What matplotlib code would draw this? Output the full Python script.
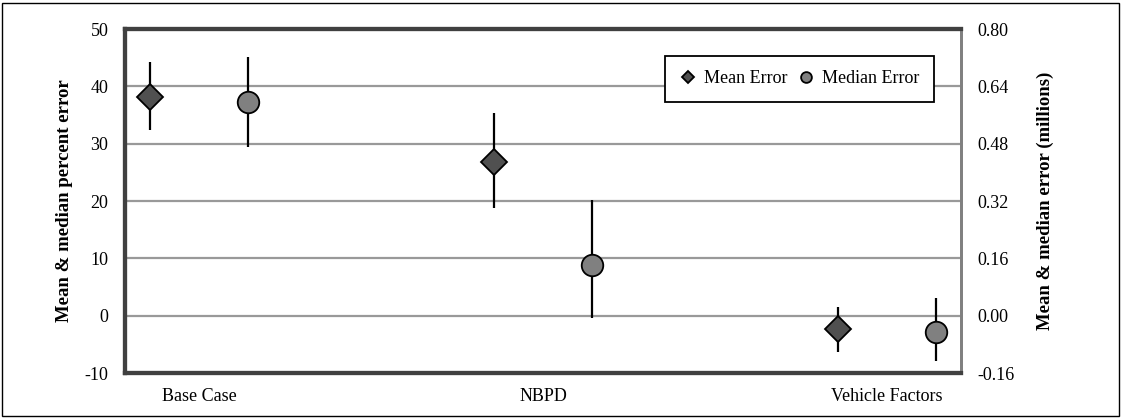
import numpy as np
import matplotlib.pyplot as plt
from matplotlib.patches import Rectangle

plt.rcParams['font.family'] = ['Liberation Serif', 'DejaVu Serif']
plt.rcParams['axes.unicode_minus'] = False

categories = ['Base Case', 'NBPD', 'Vehicle Factors']
mean_err = [38.1, 26.8, -2.3]
mean_hi = [44.2, 35.3, 1.5]
mean_lo = [32.4, 18.7, -6.3]
median_err = [37.3, 8.8, -2.8]
median_hi = [45.1, 20.2, 3.0]
median_lo = [29.4, -0.4, -7.9]

left_ticks = [-10, 0, 10, 20, 30, 40, 50]
right_ticks = [-0.16, 0.00, 0.16, 0.32, 0.48, 0.64, 0.80]

fig = plt.figure(figsize=(11.21, 4.18), dpi=100)
ax = fig.add_axes([125/1121, 45/418, 836/1121, 344/418])
ax2 = ax.twinx()

x = np.arange(len(categories))
off = 0.142
mean_err = np.array(mean_err)
median_err = np.array(median_err)

ax.errorbar(x - off, mean_err,
            yerr=[mean_err - np.array(mean_lo), np.array(mean_hi) - mean_err],
            fmt='none', ecolor='black', elinewidth=1.6, capsize=0, zorder=3)
ax.errorbar(x + off, median_err,
            yerr=[median_err - np.array(median_lo), np.array(median_hi) - median_err],
            fmt='none', ecolor='black', elinewidth=1.6, capsize=0, zorder=3)
ax.plot(x - off, mean_err, 'D', ms=13, mfc='#505050', mec='black', mew=1.3,
        ls='none', zorder=4, label='Mean Error')
ax.plot(x + off, median_err, 'o', ms=15.5, mfc='#808080', mec='black', mew=1.3,
        ls='none', zorder=4, label='Median Error')

ax.set_xlim(-0.215, 2.215)
ax.set_ylim(-10, 50)
ax.set_yticks(left_ticks)
ax.set_xticks(x)
ax.set_xticklabels(categories, fontsize=13)
ax.tick_params(axis='x', length=0, pad=11)
ax.tick_params(axis='y', length=0, pad=12, labelsize=13)
ax.yaxis.grid(True, color='#999999', lw=1.6)
ax.set_axisbelow(True)
ax.set_ylabel('Mean & median percent error', fontsize=13.5, fontweight='bold', labelpad=8)

ax2.set_ylim(-0.16, 0.80)
ax2.set_yticks(right_ticks)
ax2.set_yticklabels(['%.2f' % t for t in right_ticks])
ax2.tick_params(axis='y', length=0, pad=11.5, labelsize=13)
ax2.set_ylabel('Mean & median error (millions)', fontsize=13.5, fontweight='bold', labelpad=16)

for a in (ax, ax2):
    for s in ['left', 'bottom', 'top']:
        a.spines[s].set_color('#404040')
        a.spines[s].set_linewidth(3)
    a.spines['right'].set_color('#808080')
    a.spines['right'].set_linewidth(2)

leg = ax.legend(loc='upper right', bbox_to_anchor=(0.9677, 0.9215), borderaxespad=0,
                ncol=2, fontsize=13,
                frameon=True, fancybox=False, edgecolor='black', framealpha=1,
                markerscale=0.5, handletextpad=0.4, columnspacing=0.5,
                borderpad=0.8, handlelength=1.0)
leg.get_frame().set_linewidth(1.3)

fig.patches.append(Rectangle((0.002, 0.004), 0.996, 0.99, transform=fig.transFigure,
                             fill=False, edgecolor='black', lw=1))

fig.savefig('out.png', dpi=100)
